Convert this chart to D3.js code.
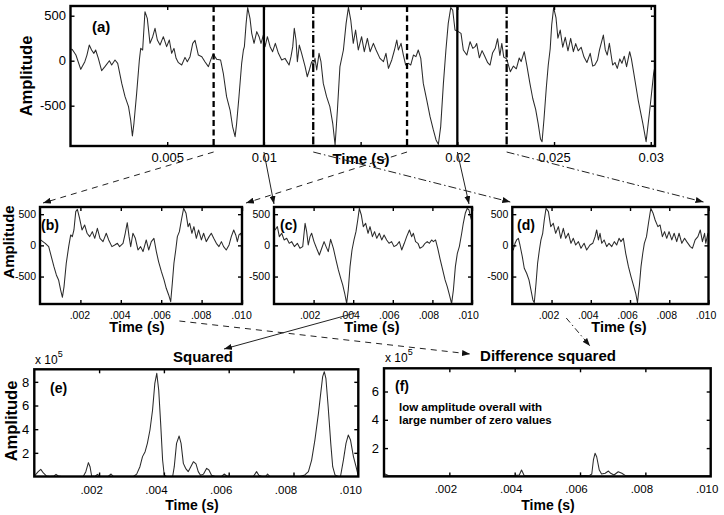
<!DOCTYPE html>
<html><head><meta charset="utf-8">
<script src="https://cdn.jsdelivr.net/npm/d3@7"></script>
<style>
body{margin:0;background:#fff}
svg{display:block}
</style>
</head><body>
<script>
// ---------------- DATA (time in ms, amplitude) ----------------
// (a) full recording 0 .. 0.03 s
const aSignal = [[0.05,130],[0.11,119],[0.28,63],[0.53,-96],[0.74,-11],[0.85,63],[0.97,174],[1.09,119],[1.21,82],[1.30,119],[1.44,26],[1.61,-111],[1.78,-66],[2.01,0],[2.13,-48],[2.30,8],[2.44,-29],[2.65,-252],[2.82,-400],[3.0,-511],[3.11,-659],[3.20,-837],[3.28,-696],[3.42,-363],[3.56,8],[3.63,137],[3.73,119],[3.85,545],[3.97,471],[4.11,193],[4.25,267],[4.37,360],[4.49,230],[4.63,174],[4.80,267],[4.97,156],[5.11,230],[5.23,82],[5.35,137],[5.46,26],[5.58,-22],[5.75,-48],[5.92,37],[6.04,-11],[6.18,45],[6.32,193],[6.44,226],[6.61,63],[6.79,45],[6.95,-11],[7.13,-66],[7.26,15],[7.38,74],[7.56,15],[7.76,8],[7.90,-140],[8.07,-400],[8.25,-548],[8.38,-733],[8.51,-844],[8.59,-696],[8.71,-400],[8.85,-29],[8.94,119],[8.99,156],[9.08,415],[9.16,590],[9.28,471],[9.37,304],[9.49,193],[9.63,323],[9.75,267],[9.85,193],[9.97,285],[10.06,156],[10.18,267],[10.32,156],[10.45,100],[10.59,193],[10.75,82],[10.92,8],[11.09,26],[11.30,-48],[11.40,45],[11.49,156],[11.57,360],[11.66,230],[11.73,-11],[11.83,174],[11.95,82],[12.13,-66],[12.24,-178],[12.35,-103],[12.47,-11],[12.56,-48],[12.64,26],[12.73,-103],[12.85,82],[12.95,-11],[13.07,-252],[13.24,-400],[13.41,-511],[13.56,-700],[13.68,-937],[13.80,-548],[13.93,-66],[14.11,119],[14.25,415],[14.37,593],[14.49,452],[14.62,193],[14.74,341],[14.88,119],[15.05,267],[15.19,100],[15.35,248],[15.49,100],[15.66,193],[15.80,119],[16.00,26],[16.18,-11],[16.31,82],[16.44,-85],[16.61,8],[16.75,119],[16.87,230],[16.95,119],[17.09,193],[17.21,63],[17.33,-48],[17.47,-29],[17.59,-48],[17.73,63],[17.86,45],[17.98,119],[18.11,26],[18.24,-252],[18.42,-437],[18.59,-622],[18.76,-770],[18.90,-881],[19.02,-930],[19.14,-733],[19.28,-252],[19.41,119],[19.53,415],[19.66,590],[19.76,563],[19.88,341],[20.05,323],[20.19,304],[20.31,119],[20.49,63],[20.66,211],[20.80,137],[20.92,156],[21.0,192],[21.14,32],[21.28,112],[21.4,58],[21.57,-22],[21.69,-48],[21.82,85],[21.96,138],[22.08,245],[22.2,58],[22.3,192],[22.4,40],[22.55,20],[22.74,-122],[22.9,-60],[23.05,-90],[23.2,30],[23.3,-10],[23.46,100],[23.6,-60],[23.75,-250],[23.9,-420],[24.05,-540],[24.18,-700],[24.3,-870],[24.38,-900],[24.48,-650],[24.6,-300],[24.7,-50],[24.8,130],[24.88,400],[24.98,590],[25.1,480],[25.2,250],[25.32,340],[25.45,150],[25.58,260],[25.72,110],[25.86,248],[26.0,100],[26.12,190],[26.25,110],[26.4,150],[26.55,40],[26.7,-20],[26.87,82],[27.0,-60],[27.11,-48],[27.25,8],[27.35,120],[27.55,285],[27.65,120],[27.75,63],[27.86,193],[28.03,-48],[28.15,-20],[28.27,-85],[28.4,20],[28.51,-29],[28.63,50],[28.75,-66],[28.91,100],[29.0,20],[29.11,-122],[29.35,-437],[29.59,-696],[29.76,-900],[29.95,-548],[30.15,-140],[30.22,-60]];

// (b) segment bounded by dashed lines
const bSignal = [[0.0,90],[0.03,87],[0.26,33],[0.43,-20],[0.56,-180],[0.69,-341],[0.81,-474],[0.92,-554],[1.02,-715],[1.11,-832],[1.19,-661],[1.30,-287],[1.42,-20],[1.52,167],[1.60,140],[1.68,247],[1.77,541],[1.85,578],[1.96,434],[2.08,247],[2.21,327],[2.33,194],[2.46,140],[2.59,220],[2.71,113],[2.84,274],[2.97,113],[3.12,60],[3.28,194],[3.40,87],[3.56,-20],[3.70,6],[3.83,33],[3.94,-20],[4.11,33],[4.22,194],[4.32,364],[4.41,140],[4.49,-20],[4.60,194],[4.72,113],[4.85,-74],[4.98,-20],[5.10,-100],[5.26,87],[5.38,-74],[5.51,60],[5.64,113],[5.76,-100],[5.87,-260],[6.01,-421],[6.14,-554],[6.25,-688],[6.37,-795],[6.47,-902],[6.55,-608],[6.63,-287],[6.72,-74],[6.80,140],[6.90,220],[7.00,407],[7.11,594],[7.23,514],[7.33,300],[7.41,354],[7.52,194],[7.62,300],[7.74,113],[7.85,247],[7.99,87],[8.10,194],[8.23,60],[8.37,140],[8.48,194],[8.60,113],[8.73,33],[8.86,-20],[8.98,60],[9.09,-20],[9.22,-74],[9.36,6],[9.47,140],[9.59,247],[9.69,167],[9.77,60],[9.85,167],[9.93,194],[10.0,120]];

// (c) segment bounded by solid lines
const cSignal = [[0.0,230],[0.05,247],[0.17,300],[0.27,140],[0.39,194],[0.51,87],[0.64,113],[0.77,33],[0.89,60],[1.03,-20],[1.18,33],[1.31,-47],[1.45,-20],[1.57,354],[1.65,220],[1.73,6],[1.82,140],[1.90,194],[2.02,60],[2.15,-47],[2.29,-154],[2.41,-47],[2.53,60],[2.63,-20],[2.74,-100],[2.86,97],[3.0,-47],[3.13,-234],[3.25,-394],[3.37,-528],[3.47,-634],[3.57,-768],[3.67,-930],[3.75,-715],[3.84,-341],[3.94,-74],[4.04,87],[4.14,220],[4.23,407],[4.31,594],[4.41,487],[4.51,300],[4.63,354],[4.75,194],[4.85,300],[4.97,140],[5.08,220],[5.19,113],[5.32,194],[5.44,87],[5.56,167],[5.69,87],[5.81,33],[5.94,60],[6.06,-20],[6.20,6],[6.33,60],[6.45,-74],[6.58,33],[6.70,140],[6.84,247],[6.95,140],[7.04,194],[7.15,60],[7.27,33],[7.37,-47],[7.51,-20],[7.63,33],[7.74,60],[7.85,33],[7.96,87],[8.05,60],[8.16,87],[8.27,-47],[8.38,-207],[8.52,-394],[8.64,-554],[8.75,-661],[8.86,-795],[8.97,-935],[9.06,-715],[9.16,-341],[9.26,-127],[9.36,-20],[9.48,194],[9.56,354],[9.66,514],[9.76,594],[9.85,567],[9.90,487],[10.0,380]];

// (d) segment bounded by dash-dot lines
const dSignal = [[0.0,-60],[0.05,-74],[0.14,33],[0.22,87],[0.31,113],[0.39,6],[0.51,-180],[0.61,-367],[0.73,-447],[0.85,-554],[0.95,-715],[1.05,-875],[1.12,-920],[1.21,-608],[1.29,-287],[1.38,-74],[1.46,87],[1.55,194],[1.63,407],[1.72,594],[1.84,541],[1.96,300],[2.09,354],[2.21,194],[2.35,300],[2.47,113],[2.60,274],[2.72,113],[2.86,194],[2.99,33],[3.11,113],[3.23,6],[3.37,60],[3.50,-47],[3.66,33],[3.79,-74],[3.96,6],[4.10,33],[4.22,140],[4.30,247],[4.39,87],[4.47,194],[4.56,33],[4.68,87],[4.81,-20],[4.93,33],[5.07,-20],[5.20,60],[5.32,6],[5.44,113],[5.54,60],[5.66,113],[5.78,-127],[5.92,-341],[6.05,-501],[6.17,-634],[6.29,-768],[6.38,-920],[6.48,-634],[6.56,-341],[6.65,-127],[6.73,33],[6.84,140],[6.94,354],[7.06,594],[7.17,520],[7.28,407],[7.42,300],[7.53,327],[7.65,140],[7.76,220],[7.87,113],[7.99,220],[8.13,87],[8.25,194],[8.38,60],[8.50,194],[8.64,33],[8.78,113],[8.89,60],[9.07,-20],[9.18,-47],[9.32,87],[9.46,140],[9.58,247],[9.69,60],[9.80,194],[9.86,33],[9.97,194],[10.0,150]];

// (e) squared (units of 1e5)
const eSquared = [[0,0.02],[0.12,0.41],[0.2,0.6],[0.28,0.3],[0.38,0.04],[0.48,0],[0.61,0.05],[0.67,0.18],[0.74,0.04],[0.84,0],[1.51,0],[1.59,0.41],[1.67,1.17],[1.72,0.83],[1.77,0.04],[1.87,0],[1.95,0.18],[2.03,0],[2.28,0],[2.37,0.21],[2.44,0],[3.06,0],[3.16,0.2],[3.26,0.83],[3.34,1.68],[3.42,2.1],[3.49,2.8],[3.57,3.93],[3.65,5.62],[3.72,7.87],[3.78,8.72],[3.84,7.3],[3.90,4.49],[3.96,1.39],[4.01,0.13],[4.08,0],[4.27,0],[4.32,0.83],[4.39,2.8],[4.47,3.42],[4.53,2.8],[4.60,1.11],[4.67,0.69],[4.75,0.41],[4.83,0.83],[4.91,1.25],[4.99,1.06],[5.06,0.41],[5.13,0.1],[5.22,0.2],[5.32,0.69],[5.39,0.55],[5.47,0.1],[5.58,0],[5.78,0],[5.86,0.21],[5.94,0.04],[6.04,0],[6.76,0],[6.86,0.41],[6.93,0.1],[7.02,0],[7.14,0],[7.2,0.21],[7.27,0],[8.2,0],[8.35,0.13],[8.46,0.41],[8.56,1.39],[8.66,3.08],[8.77,5.34],[8.84,7.03],[8.9,8.44],[8.95,8.86],[9.0,8.3],[9.07,5.9],[9.15,2.8],[9.21,0.83],[9.28,0.13],[9.38,0],[9.45,0],[9.54,1.39],[9.62,2.8],[9.69,3.5],[9.76,3.08],[9.85,1.68],[9.93,0.83],[9.98,0.27],[10,0.2]];

// (f) difference squared (units of 1e5)
const fDiffSquared = [[0,0.12],[0.03,0.17],[0.13,0.07],[0.5,0.05],[1.0,0.05],[2.0,0.05],[3.0,0.05],[4.0,0.06],[4.14,0.1],[4.21,0.45],[4.29,0.07],[5.0,0.05],[6.0,0.05],[6.3,0.08],[6.36,0.17],[6.41,1.16],[6.46,1.63],[6.51,1.39],[6.59,0.45],[6.66,0.17],[6.77,0.22],[6.87,0.38],[6.94,0.22],[7.04,0.1],[7.17,0.33],[7.28,0.22],[7.38,0.07],[8.0,0.05],[9.0,0.05],[10,0.05]];

// window boundaries drawn on (a), in ms
const windowDashed = [7.4, 17.4];     // -> (b)
const windowSolid = [10, 20];         // -> (c)
const windowDashDot = [12.55, 22.55]; // -> (d)

// tick values / labels
const aXTickMarks = [5,10,15,20,25,30];
const aXTickVals = [5,10,20,25,30];
const aXTickLabels = ["0.005","0.01","0.02","0.025","0.03"];
const ampTicks = [-500,0,500];
const ampTickLabels = ["-500","0","500"];
const segXTicks = [2,4,6,8,10];
const segXTickLabels = [".002",".004",".006",".008",".010"];
const eYTicks = [2,4,6,8];
const fYTicks = [2,4,6];

// ---------------- DRAWING ----------------
const FONT = '"Liberation Sans", Arial, Helvetica, sans-serif';
const svg = d3.select("body").append("svg").attr("width",724).attr("height",515)
  .style("font-family",FONT);
const defs = svg.append("defs");
defs.append("marker").attr("id","ah").attr("viewBox","0 0 8 6").attr("refX",8).attr("refY",3)
  .attr("markerWidth",8).attr("markerHeight",6).attr("markerUnits","userSpaceOnUse").attr("orient","auto")
  .append("path").attr("d","M0,0L8,3L0,6Z").attr("fill","#111");

function makePanel(p){
  const x = d3.scaleLinear().domain(p.xDomain).range([p.left,p.right]);
  const y = d3.scaleLinear().domain(p.yDomain).range([p.bottom,p.top]);
  const g = svg.append("g");
  defs.append("clipPath").attr("id","clip-"+p.id).append("rect")
    .attr("x",p.left).attr("y",p.top).attr("width",p.right-p.left).attr("height",p.bottom-p.top);
  g.append("path").datum(p.data).attr("clip-path",`url(#clip-${p.id})`)
    .attr("fill","none").attr("stroke","#2b2b2b").attr("stroke-width",1.05).attr("stroke-linejoin","round")
    .attr("d", d3.line().x(d=>x(d[0])).y(d=>y(d[1])));
  const tl = 4;
  const mk = (axis,tx,ty)=>{
    const a = g.append("g").attr("transform",`translate(${tx},${ty})`).call(axis);
    a.select(".domain").remove();
    a.selectAll(".tick line").attr("stroke","#000").attr("stroke-width",1.4);
    a.selectAll("text").remove();
  };
  mk(d3.axisBottom(x).tickValues(p.xMarks).tickSize(-tl).tickFormat(""),0,p.bottom);
  mk(d3.axisTop(x).tickValues(p.xMarks).tickSize(-tl).tickFormat(""),0,p.top);
  mk(d3.axisLeft(y).tickValues(p.yTicks).tickSize(-tl).tickFormat(""),p.left,0);
  mk(d3.axisRight(y).tickValues(p.yTicks).tickSize(-tl).tickFormat(""),p.right,0);
  // x labels
  const xl = g.append("g").attr("transform",`translate(0,${p.bottom})`)
    .call(d3.axisBottom(x).tickValues(p.xLabelVals).tickFormat((d,i)=>p.xLabelText[i]).tickSize(0)
      .tickPadding(p.xBase - p.bottom - 0.71*p.fs));
  xl.select(".domain").remove();
  xl.selectAll("text").attr("font-size",p.fs).attr("font-family",FONT).attr("fill","#000").attr("dx",p.xDx||0);
  // y labels
  const yl = g.append("g").attr("transform",`translate(${p.left},0)`)
    .call(d3.axisLeft(y).tickValues(p.yTicks).tickFormat((d,i)=>p.yLabelText[i]).tickSize(0).tickPadding(p.yPad));
  yl.select(".domain").remove();
  yl.selectAll("text").attr("font-size",p.yfs||p.fs).attr("font-family",FONT).attr("fill","#000");
  p.x = x; p.y = y; p.g = g;
  return p;
}
function frame(p){
  svg.append("rect").attr("x",p.left).attr("y",p.top).attr("width",p.right-p.left).attr("height",p.bottom-p.top)
    .attr("fill","none").attr("stroke","#000").attr("stroke-width",2.4);
}
function txt(s,x,y,opt={}){
  const t = svg.append("text").attr("x",x).attr("y",y).text(s)
    .attr("font-size",opt.fs||14).attr("font-weight",opt.bold===false?"normal":"bold")
    .attr("text-anchor",opt.anchor||"start").attr("fill","#000");
  if(opt.rotate) t.attr("transform",`rotate(-90,${x},${y})`);
  return t;
}

// panel (a)
const A = makePanel({id:"a", left:70.5, right:655, top:6, bottom:146, xDomain:[0,30.22], yDomain:[-948,608],
  data:aSignal, xMarks:aXTickMarks, xLabelVals:aXTickVals, xLabelText:aXTickLabels, yTicks:ampTicks,
  yLabelText:ampTickLabels, fs:13, xBase:162, yPad:4.5});
// window lines on (a)
const vline = (t,dash)=>{
  A.g.append("line").attr("x1",A.x(t)).attr("x2",A.x(t)).attr("y1",A.top).attr("y2",A.bottom)
    .attr("stroke","#000").attr("stroke-width",2.3).attr("stroke-dasharray",dash);
};
windowDashed.forEach(t=>vline(t,"6,3.5"));
windowSolid.forEach(t=>vline(t,null));
windowDashDot.forEach(t=>vline(t,"8,2.5,1.5,2.5"));
frame(A);

const segY = [-940,615];
const B = makePanel({id:"b", left:40, right:242, top:207, bottom:304, xDomain:[0,10], yDomain:segY,
  data:bSignal, xMarks:segXTicks, xLabelVals:segXTicks, xLabelText:segXTickLabels, yTicks:ampTicks,
  yLabelText:ampTickLabels, fs:10.5, xBase:318.5, yPad:4, xDx:-1});
frame(B);
const C = makePanel({id:"c", left:274, right:472, top:207, bottom:304, xDomain:[0,10], yDomain:segY,
  data:cSignal, xMarks:segXTicks, xLabelVals:segXTicks, xLabelText:segXTickLabels, yTicks:ampTicks,
  yLabelText:ampTickLabels, fs:10.5, xBase:318.5, yPad:4, xDx:-4});
frame(C);
const D = makePanel({id:"d", left:512.3, right:708.5, top:207, bottom:304, xDomain:[0,10], yDomain:segY,
  data:dSignal, xMarks:segXTicks, xLabelVals:segXTicks, xLabelText:segXTickLabels, yTicks:ampTicks,
  yLabelText:ampTickLabels, fs:10.5, xBase:318.5, yPad:4, xDx:-3});
frame(D);
const E = makePanel({id:"e", left:34.3, right:358.3, top:369.3, bottom:476.5, xDomain:[0,10], yDomain:[0,9.06],
  data:eSquared, xMarks:[2,4,6,8], xLabelVals:segXTicks, xLabelText:segXTickLabels, yTicks:eYTicks,
  yLabelText:eYTicks.map(String), fs:11.5, yfs:13, xBase:493.5, yPad:5, xDx:-8});
frame(E);
const F = makePanel({id:"f", left:384, right:710.7, top:368.3, bottom:476.4, xDomain:[0,10], yDomain:[0,7.64],
  data:fDiffSquared, xMarks:[2,4,6,8], xLabelVals:segXTicks, xLabelText:segXTickLabels, yTicks:fYTicks,
  yLabelText:fYTicks.map(String), fs:11.5, yfs:13, xBase:493.5, yPad:5, xDx:-4});
frame(F);

// axis titles
txt("Amplitude", 32, 76, {fs:16.5, anchor:"middle", rotate:true});
txt("Amplitude", 14, 242, {fs:15, anchor:"middle", rotate:true});
txt("Amplitude", 17, 421, {fs:16.5, anchor:"middle", rotate:true});
txt("Time (s)", 361, 164, {fs:15, anchor:"middle"});
txt("Time (s)", 137, 332, {fs:14.5, anchor:"middle"});
txt("Time (s)", 372, 332, {fs:14.5, anchor:"middle"});
txt("Time (s)", 619, 332, {fs:14.5, anchor:"middle"});
txt("Time (s)", 192, 509.5, {fs:14, anchor:"middle"});
txt("Time (s)", 548, 509.5, {fs:14, anchor:"middle"});
// panel letters
txt("(a)", 92, 32, {fs:15});
txt("(b)", 41, 230, {fs:14});
txt("(c)", 280, 230, {fs:14});
txt("(d)", 517, 230, {fs:14});
txt("(e)", 50, 393, {fs:14});
txt("(f)", 395, 391, {fs:14});
// titles
txt("Squared", 203, 362, {fs:15, anchor:"middle"});
txt("Difference squared", 548, 361, {fs:15, anchor:"middle"});
// exponent labels
function expo(x,y){
  const t = svg.append("text").attr("x",x).attr("y",y).attr("font-size",12).attr("fill","#000");
  t.append("tspan").text("x 10");
  t.append("tspan").text("5").attr("font-size",9).attr("dy",-7);
}
expo(35, 364);
expo(385, 362);
// annotation
txt("low amplitude overall with", 399, 410.5, {fs:11.5});
txt("large number of zero values", 399, 424, {fs:11.5});

// connecting arrows
function arrow(x1,y1,x2,y2,dash){
  svg.append("line").attr("x1",x1).attr("y1",y1).attr("x2",x2).attr("y2",y2)
    .attr("stroke","#222").attr("stroke-width",1).attr("stroke-dasharray",dash)
    .attr("marker-end","url(#ah)");
}
const aBot = A.bottom + 6;
arrow(A.x(windowDashed[0]), aBot, B.left+3, B.top-4, "6,5");
arrow(A.x(windowDashed[1]), aBot, B.right+4, B.top-4, "6,5");
arrow(A.x(windowSolid[0]), aBot, C.left, C.top-3, null);
arrow(A.x(windowSolid[1]), aBot, C.right-3, C.top-3, null);
arrow(A.x(windowDashDot[0]), aBot, D.left-2, D.top-5, "8,3,1.5,3");
arrow(A.x(windowDashDot[1]), aBot, D.right-5, D.top-5, "8,3,1.5,3");
arrow(C.x(4.1), C.bottom+9, 224, 349, null);
arrow(B.x(6.9), B.bottom+17, 470, 354, "6,5");
arrow(D.x(2.75), D.bottom+14, 590, 346, "6,3,1.5,3");
</script>
</body></html>
